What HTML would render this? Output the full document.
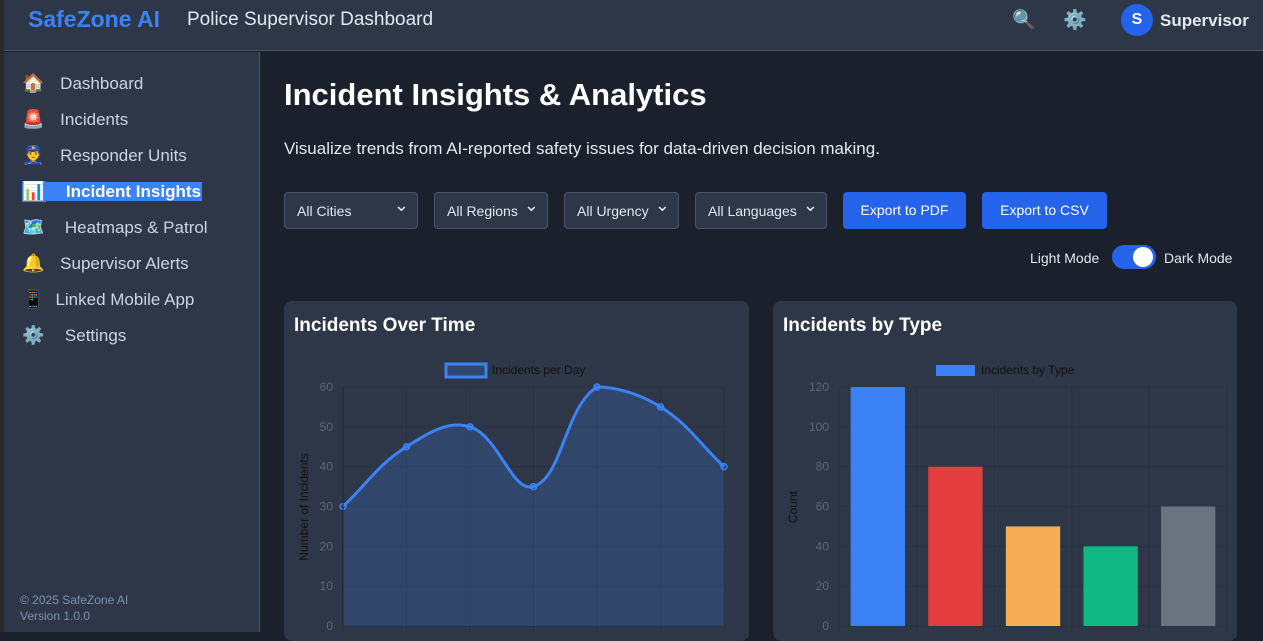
<!DOCTYPE html>
<html><head><meta charset="utf-8"><style>
*{box-sizing:border-box;margin:0;padding:0}
body{width:1263px;height:632px;overflow:hidden;background:#1a202c;font-family:"Liberation Sans",sans-serif;position:relative}
.strip{position:absolute;left:0;top:0;width:4px;height:632px;background:#2a2a2a}
header{position:absolute;left:4px;top:0;width:1259px;height:51px;background:#2d3748;border-bottom:1px solid #4a5568}
.logo{position:absolute;left:24px;top:6px;font-size:23px;font-weight:bold;color:#3b82f6}
.htitle{position:absolute;left:183px;top:9px;font-size:19px;color:#e2e8f0}
.hicon{position:absolute;top:8px;font-size:19px}
.avatar{position:absolute;left:1117px;top:4px;width:32px;height:32px;border-radius:50%;background:#2563eb;color:#fff;font-weight:bold;font-size:16px;text-align:center;line-height:32px}
.uname{position:absolute;left:1156px;top:11px;font-size:17px;font-weight:bold;color:#e2e8f0}
aside{position:absolute;left:4px;top:52px;width:256px;height:580px;background:#2d3748;border-right:1px solid #4a5568}
.nav{position:absolute;left:18px;font-size:17px;color:#cbd5e0;white-space:nowrap}
.nav .ic{display:inline-block;width:24px;font-size:18px}
.active .tx{background:#3b82f6;color:#fff;font-weight:bold;padding:0 1px}
.foot{position:absolute;left:16px;top:540px;font-size:12px;color:#8090a8;line-height:16px}
h1{position:absolute;left:284px;top:77px;font-size:31px;color:#fff;font-weight:bold}
.sub{position:absolute;left:284px;top:139px;font-size:17px;color:#e2e8f0}
.sel{position:absolute;top:192px;height:37px;background:#2d3748;border:1px solid #4a5568;border-radius:4px;color:#e2e8f0;font-size:14px;padding:10px 12px}
.sel:after{content:"⌄";position:absolute;right:8px;top:2px;font-size:18px}
.btn{position:absolute;top:192px;height:37px;background:#2563eb;border-radius:4px;color:#fff;font-size:14px;text-align:center;line-height:37px}
.tog{position:absolute;top:250px;font-size:14px;color:#e2e8f0}
.switch{position:absolute;left:1112px;top:245px;width:44px;height:24px;border-radius:12px;background:#2563eb}
.knob{position:absolute;right:3px;top:2px;width:20px;height:20px;border-radius:50%;background:#fff}
.card{position:absolute;top:301px;height:340px;background:#2d3748;border-radius:8px}
.card h2{position:absolute;left:10px;top:14px;font-size:19px;color:#fff}
svg{position:absolute;left:0;top:0}
</style></head><body>
<div class="strip"></div>
<header>
<div class="logo">SafeZone AI</div>
<div class="htitle">Police Supervisor Dashboard</div>
<div class="hicon" style="left:1008px">🔍</div>
<div class="hicon" style="left:1059px">⚙️</div>
<div class="avatar">S</div>
<div class="uname">Supervisor</div>
</header>
<aside>
<div class="nav" style="top:21px"><span class="ic">🏠</span>&nbsp;&nbsp;&nbsp;<span class="tx">Dashboard</span></div>
<div class="nav" style="top:57px"><span class="ic">🚨</span>&nbsp;&nbsp;&nbsp;<span class="tx">Incidents</span></div>
<div class="nav" style="top:93px"><span class="ic">👮</span>&nbsp;&nbsp;&nbsp;<span class="tx">Responder Units</span></div>
<div class="nav active" style="top:129px"><span class="ic" style="background:#3b82f6">📊</span><span class="tx">&nbsp;&nbsp;&nbsp;&nbsp;Incident Insights</span></div>
<div class="nav" style="top:165px"><span class="ic">🗺️</span>&nbsp;&nbsp;&nbsp;&nbsp;<span class="tx">Heatmaps &amp; Patrol</span></div>
<div class="nav" style="top:201px"><span class="ic">🔔</span>&nbsp;&nbsp;&nbsp;<span class="tx">Supervisor Alerts</span></div>
<div class="nav" style="top:237px"><span class="ic">📱</span>&nbsp;&nbsp;<span class="tx">Linked Mobile App</span></div>
<div class="nav" style="top:273px"><span class="ic">⚙️</span>&nbsp;&nbsp;&nbsp;&nbsp;<span class="tx">Settings</span></div>
<div class="foot">© 2025 SafeZone AI<br>Version 1.0.0</div>
</aside>
<h1>Incident Insights &amp; Analytics</h1>
<div class="sub">Visualize trends from AI-reported safety issues for data-driven decision making.</div>
<div class="sel" style="left:284px;width:134px">All Cities</div>
<div class="sel" style="left:434px;width:114px">All Regions</div>
<div class="sel" style="left:564px;width:115px">All Urgency</div>
<div class="sel" style="left:695px;width:132px">All Languages</div>
<div class="btn" style="left:843px;width:123px">Export to PDF</div>
<div class="btn" style="left:982px;width:125px">Export to CSV</div>
<div class="tog" style="left:1030px">Light Mode</div>
<div class="switch"><div class="knob"></div></div>
<div class="tog" style="left:1164px">Dark Mode</div>
<div class="card" style="left:284px;width:465px"><h2>Incidents Over Time</h2></div>
<div class="card" style="left:773px;width:464px"><h2>Incidents by Type</h2></div>
<svg id="charts" width="1263" height="632"></svg>
<script>
const lineDays=["Mon","Tue","Wed","Thu","Fri","Sat","Sun"];
const lineValues=[30,45,50,35,60,55,40];
const lineTicks=[0,10,20,30,40,50,60];
const barTypes=["Theft","Assault","Vandalism","Fraud","Other"];
const barValues=[120,80,50,40,60];
const barColors=["#3b82f6","#e53e3e","#f6ad55","#10b981","#6b7280"];
const barTicks=[0,20,40,60,80,100,120];
const svg=document.getElementById('charts');
const NS="http://www.w3.org/2000/svg";
function mk(tag,attrs,parent){const e=document.createElementNS(NS,tag);for(const k in attrs)e.setAttribute(k,attrs[k]);(parent||svg).appendChild(e);return e;}
function txt(x,y,s,attrs){const t=mk('text',Object.assign({x:x,y:y,'font-family':'Liberation Sans, sans-serif'},attrs));t.textContent=s;return t;}
const GRID='#283141';
// line chart
const L={x0:343,x1:724,y0:626,y1:387,max:60};
const lx=i=>L.x0+i*(L.x1-L.x0)/(lineDays.length-1);
const ly=v=>L.y0-v/L.max*(L.y0-L.y1);
lineTicks.forEach(t=>{const g=mk('line',{x1:L.x0,x2:L.x1,y1:ly(t),y2:ly(t),stroke:GRID});

const lb=txt(L.x0-10,ly(t)+4,String(t),{'font-size':12,fill:'#5f6673','text-anchor':'end'});
});
lineDays.forEach((d,i)=>{const g=mk('line',{x1:lx(i),x2:lx(i),y1:L.y1,y2:L.y0+6,stroke:GRID});
});
const pts=lineValues.map((v,i)=>[lx(i),ly(v)]);
const clampY=y=>Math.max(L.y1,Math.min(L.y0,y));
function cps(i){const p=pts[Math.max(0,i-1)],c=pts[i],n=pts[Math.min(pts.length-1,i+1)];
const d01=Math.hypot(c[0]-p[0],c[1]-p[1]),d12=Math.hypot(n[0]-c[0],n[1]-c[1]);
let s01=d01/(d01+d12)||0,s12=d12/(d01+d12)||0;const fa=0.4*s01,fb=0.4*s12;
return [[c[0]-fa*(n[0]-p[0]),clampY(c[1]-fa*(n[1]-p[1]))],[c[0]+fb*(n[0]-p[0]),clampY(c[1]+fb*(n[1]-p[1]))]];}
let d='M'+pts[0][0]+','+pts[0][1];
for(let i=1;i<pts.length;i++){const a=cps(i-1)[1],b=cps(i)[0];d+=` C${a[0]},${a[1]} ${b[0]},${b[1]} ${pts[i][0]},${pts[i][1]}`;}
const area=mk('path',{d:d+` L${L.x1},${L.y0} L${L.x0},${L.y0} Z`,fill:'rgba(59,130,246,0.2)'});

const ln=mk('path',{d:d,fill:'none',stroke:'#3b82f6','stroke-width':3});

pts.forEach(p=>{const c=mk('circle',{cx:p[0],cy:p[1],r:3,fill:'rgba(59,130,246,0.2)',stroke:'#3b82f6','stroke-width':1.5});
});
mk('line',{x1:L.x0,x2:L.x0,y1:L.y1,y2:L.y0,stroke:'#1f2633'});
const lyt=txt(0,0,'Number of Incidents',{'font-size':12,fill:'#111','text-anchor':'middle',transform:'translate(308,507) rotate(-90)'});

const lsw=mk('rect',{x:446,y:364,width:40,height:13,fill:'rgba(59,130,246,0.2)',stroke:'#3b82f6','stroke-width':3});

const llt=txt(492,374,'Incidents per Day',{'font-size':12,fill:'#111'});

// bar chart
const B={x0:839,x1:1227,y0:626,y1:387,max:120};
const bw=(B.x1-B.x0)/barTypes.length;
const by=v=>B.y0-v/B.max*(B.y0-B.y1);
barTicks.forEach(t=>{const g=mk('line',{x1:B.x0,x2:B.x1,y1:by(t),y2:by(t),stroke:GRID});

const lb=txt(B.x0-10,by(t)+4,String(t),{'font-size':12,fill:'#5f6673','text-anchor':'end'});
});
for(let i=0;i<=barTypes.length;i++){const g=mk('line',{x1:B.x0+i*bw,x2:B.x0+i*bw,y1:B.y1,y2:B.y0+6,stroke:GRID});
}
barValues.forEach((v,i)=>{const r=mk('rect',{x:B.x0+i*bw+bw*0.15,y:by(v),width:bw*0.7,height:B.y0-by(v),fill:barColors[i]});
});
const byt=txt(0,0,'Count',{'font-size':12,fill:'#111','text-anchor':'middle',transform:'translate(797,507) rotate(-90)'});

const bsw=mk('rect',{x:936,y:365,width:39,height:11,fill:'#3b82f6'});

const blt=txt(981,374,'Incidents by Type',{'font-size':12,fill:'#111'});

</script>
</body></html>
